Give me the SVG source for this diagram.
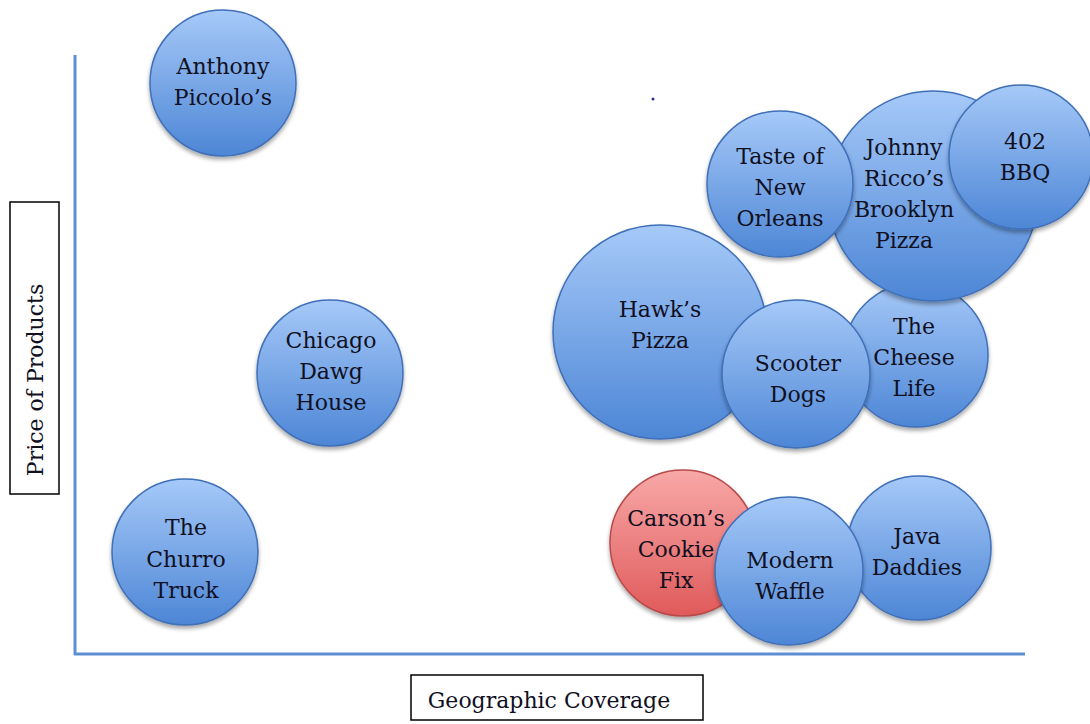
<svg xmlns="http://www.w3.org/2000/svg" width="1090" height="724" viewBox="0 0 1090 724">
<defs>
<linearGradient id="gb" x1="0" y1="0" x2="0" y2="1">
<stop offset="0" stop-color="#a6c9f8"/>
<stop offset="1" stop-color="#4d86d6"/>
</linearGradient>
<linearGradient id="gr" x1="0" y1="0" x2="0" y2="1">
<stop offset="0" stop-color="#f8a8a8"/>
<stop offset="1" stop-color="#e05a5a"/>
</linearGradient>
<filter id="sh" x="-20%" y="-20%" width="140%" height="150%">
<feGaussianBlur in="SourceAlpha" stdDeviation="2"/>
<feOffset dx="0" dy="3" result="b"/>
<feComponentTransfer><feFuncA type="linear" slope="0.35"/></feComponentTransfer>
<feMerge><feMergeNode/><feMergeNode in="SourceGraphic"/></feMerge>
</filter>
</defs>
<style>
.b{fill:url(#gb);stroke:#3f6fb8;stroke-width:1.5;filter:url(#sh)}
.r{fill:url(#gr);stroke:#b84a4a;stroke-width:1.5;filter:url(#sh)}
.t{font-family:"DejaVu Serif","Liberation Serif",serif;font-size:22px;fill:#10101f;text-anchor:middle}
.ax{stroke:#5b8fd2;stroke-width:3;fill:none}
.lb{fill:#fff;stroke:#000;stroke-width:1.5}
</style>
<rect width="1090" height="724" fill="#fff"/>
<g id="axes">
<line class="ax" x1="75" y1="55" x2="75" y2="655"/>
<line class="ax" x1="74" y1="654" x2="1025" y2="654"/>
</g>
<g id="ylabel">
<rect class="lb" x="10" y="202" width="49" height="292"/>
<text class="t" transform="translate(43,380) rotate(-90)">Price of Products</text>
</g>
<g id="xlabel">
<rect class="lb" x="411" y="675" width="292" height="45"/>
<text class="t" x="549" y="708">Geographic Coverage</text>
</g>
<circle cx="653" cy="99" r="1.5" fill="#2a2a9a"/>
<g id="anthony"><circle class="b" cx="223" cy="83" r="73"/><text class="t" x="223" y="74">Anthony</text><text class="t" x="223" y="105">Piccolo’s</text></g>
<g id="chicago"><circle class="b" cx="330" cy="373" r="73"/><text class="t" x="331" y="348">Chicago</text><text class="t" x="331" y="379">Dawg</text><text class="t" x="331" y="410">House</text></g>
<g id="churro"><circle class="b" cx="185" cy="552" r="73"/><text class="t" x="186" y="535">The</text><text class="t" x="186" y="567">Churro</text><text class="t" x="186" y="598">Truck</text></g>
<g id="hawks"><circle class="b" cx="660" cy="332" r="107"/><text class="t" x="660" y="317">Hawk’s</text><text class="t" x="660" y="348">Pizza</text></g>
<g id="cheese"><circle class="b" cx="916" cy="355" r="72"/><text class="t" x="914" y="334">The</text><text class="t" x="914" y="365">Cheese</text><text class="t" x="914" y="396">Life</text></g>
<g id="johnny"><circle class="b" cx="933" cy="196" r="105"/><text class="t" x="904" y="155">Johnny</text><text class="t" x="904" y="186">Ricco’s</text><text class="t" x="904" y="217">Brooklyn</text><text class="t" x="904" y="248">Pizza</text></g>
<g id="taste"><circle class="b" cx="780" cy="184" r="73"/><text class="t" x="780" y="164">Taste of</text><text class="t" x="780" y="195">New</text><text class="t" x="780" y="226">Orleans</text></g>
<g id="bbq"><circle class="b" cx="1021" cy="157" r="72"/><text class="t" x="1025" y="149">402</text><text class="t" x="1025" y="180">BBQ</text></g>
<g id="scooter"><circle class="b" cx="796" cy="374" r="74"/><text class="t" x="798" y="371">Scooter</text><text class="t" x="798" y="402">Dogs</text></g>
<g id="carson"><circle class="r" cx="683" cy="543" r="73"/><text class="t" x="676" y="526">Carson’s</text><text class="t" x="676" y="557">Cookie</text><text class="t" x="676" y="588">Fix</text></g>
<g id="java"><circle class="b" cx="919" cy="548" r="72"/><text class="t" x="917" y="544">Java</text><text class="t" x="917" y="575">Daddies</text></g>
<g id="waffle"><circle class="b" cx="789" cy="571" r="74"/><text class="t" x="790" y="568">Modern</text><text class="t" x="790" y="599">Waffle</text></g>
<g id="connectors"></g>
</svg>
